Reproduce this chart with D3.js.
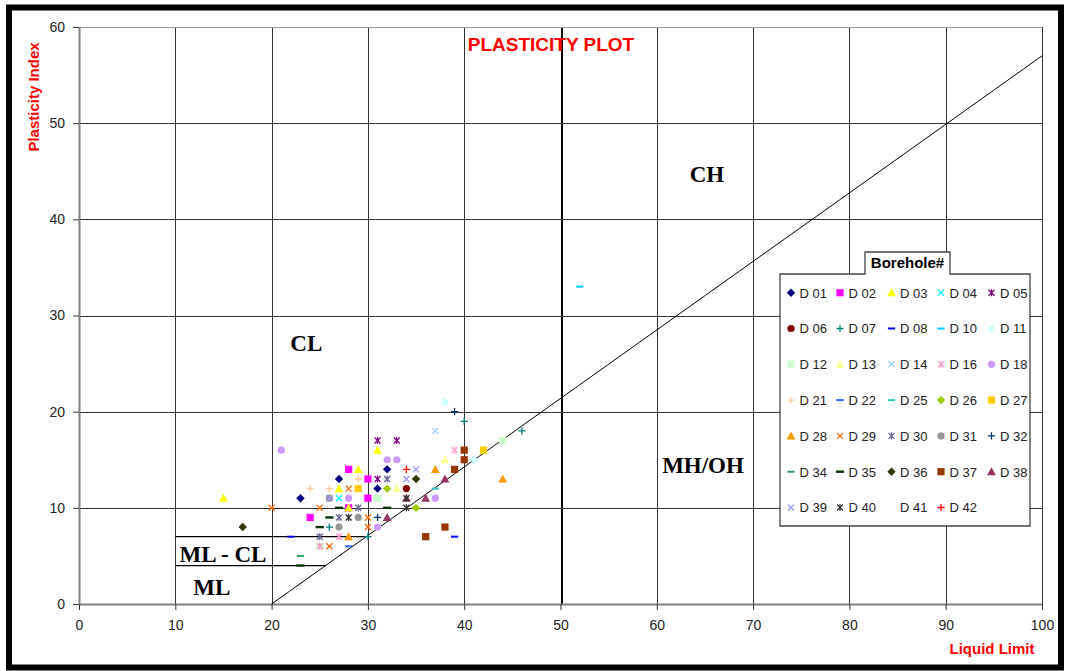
<!DOCTYPE html>
<html>
<head>
<meta charset="utf-8">
<script src="https://cdn.jsdelivr.net/npm/d3@7"></script>
<style>
	html, body { margin: 0; padding: 0; background: #fff; }
	svg { display: block; }
</style>
</head>
<body>
<div id="chart"></div>
<script>
// axis ticks
const xTicks = [0, 10, 20, 30, 40, 50, 60, 70, 80, 90, 100];
const yTicks = [0, 10, 20, 30, 40, 50, 60];

// borehole samples: [liquid limit, plasticity index]
const D01 = [[23, 11], [27, 13], [31, 12], [32, 14]];
const D02 = [[28, 14], [30, 13], [30, 11], [24, 9], [28, 10]];
const D03 = [[15, 11], [27, 12], [29, 14], [31, 16], [28, 10]];
const D04 = [[27, 11], [29, 12]];
const D05 = [[31, 17], [33, 17], [31, 13]];
const D06 = [[34, 12]];
const D07 = [[40, 19], [46, 18], [26, 8], [30, 7]];
const D08 = [[22, 7], [39, 7]];
const D10 = [[52, 33]];
const D11 = [[38, 21], [41, 15]];
const D12 = [[44, 17], [31, 11], [25, 6]];
const D13 = [[38, 15], [33, 12]];
const D14 = [[37, 18]];
const D16 = [[39, 16], [27, 7], [25, 6]];
const D18 = [[21, 16], [32, 15], [33, 15], [28, 11], [37, 11], [31, 8]];
const D21 = [[24, 12], [26, 12], [29, 13]];
const D22 = [[28, 6]];
const D25 = [[37, 12]];
const D26 = [[35, 10], [32, 12]];
const D27 = [[42, 16], [29, 12]];
const D28 = [[37, 14], [44, 13], [28, 7]];
const D29 = [[20, 10], [25, 10], [28, 12], [26, 6], [30, 8], [30, 9]];
const D30 = [[29, 10], [27, 9], [25, 7], [32, 13]];
const D31 = [[27, 8], [29, 9], [26, 11]];
const D32 = [[39, 20], [31, 9]];
const D34 = [[23, 5]];
const D35 = [[23, 4], [25, 8], [26, 9], [27, 10], [32, 10]];
const D36 = [[17, 8], [35, 13]];
const D37 = [[40, 16], [40, 15], [39, 14], [38, 8], [36, 7]];
const D38 = [[38, 13], [36, 11], [32, 9], [34, 11]];
const D39 = [[34, 13], [35, 14], [26, 11]];
const D40 = [[34, 10], [34, 11], [28, 9]];
const D41 = [];
const D42 = [[34, 14]];

const boreholes = ["D 01", "D 02", "D 03", "D 04", "D 05", "D 06", "D 07", "D 08", "D 10", "D 11",
	"D 12", "D 13", "D 14", "D 16", "D 18", "D 21", "D 22", "D 25", "D 26", "D 27",
	"D 28", "D 29", "D 30", "D 31", "D 32", "D 34", "D 35", "D 36", "D 37", "D 38",
	"D 39", "D 40", "D 41", "D 42"];
const boreholeData = [D01, D02, D03, D04, D05, D06, D07, D08, D10, D11,
	D12, D13, D14, D16, D18, D21, D22, D25, D26, D27,
	D28, D29, D30, D31, D32, D34, D35, D36, D37, D38,
	D39, D40, D41, D42];

// classification lines: A-line and the ML-CL band
const aLine = [[20, 0], [100, 57]];
const mlclLevels = [7, 4];
const mlclStart = 10;
const zones = [
	{name: "CH", ll: 65.2, pi: 44.7},
	{name: "CL", ll: 23.6, pi: 27.1},
	{name: "MH/OH", ll: 64.8, pi: 14.4},
	{name: "ML - CL", ll: 14.95, pi: 5.1},
	{name: "ML", ll: 13.8, pi: 1.7}
];

// marker styles, same order as boreholes
const markerStyle = [
	["diamond", "#000080"], ["square", "#ff00ff"], ["triangle", "#ffff00"], ["x", "#00ffff"], ["star", "#800080"],
	["circle", "#800000"], ["plus", "#008080"], ["dash", "#0000ff"], ["dash", "#00ccff"], ["diamond", "#ccffff"],
	["square", "#ccffcc"], ["triangle", "#ffff99"], ["x", "#99ccff"], ["star", "#ff99cc"], ["circle", "#cc99ff"],
	["plus", "#ffcc99"], ["dash", "#3366ff"], ["dash", "#33cccc"], ["diamond", "#99cc00"], ["square", "#ffcc00"],
	["triangle", "#ff9900"], ["x", "#ff6600"], ["star", "#666699"], ["circle", "#969696"], ["plus", "#003366"],
	["dash", "#339966"], ["longdash", "#003300"], ["diamond", "#333300"], ["square", "#993300"], ["triangle", "#993366"],
	["x", "#9999ff"], ["star", "#333333"], ["none", "#000"], ["plus", "#ff0000"]
];

const W = 1068, H = 671;
const svg = d3.select("#chart").append("svg").attr("width", W).attr("height", H);

const x = d3.scaleLinear().domain([0, 100]).range([79, 1042]);
const y = d3.scaleLinear().domain([0, 60]).range([604, 27]);

// frame
svg.append("rect").attr("x", 9).attr("y", 7.5).attr("width", 1052).attr("height", 660)
	.attr("fill", "#fff").attr("stroke", "#000").attr("stroke-width", 6);

// gridlines
const grid = svg.append("g").attr("shape-rendering", "crispEdges");
grid.selectAll("line.v").data(xTicks.filter(d => d > 0)).enter()
	.append("line")
	.attr("x1", d => Math.round(x(d)) + 0.5).attr("x2", d => Math.round(x(d)) + 0.5)
	.attr("y1", y(60)).attr("y2", y(0))
	.attr("stroke", d => d === 50 ? "#000" : "#333")
	.attr("stroke-width", d => d === 50 ? 2 : 1);
grid.selectAll("line.h").data(yTicks.filter(d => d > 0)).enter()
	.append("line")
	.attr("x1", x(0)).attr("x2", x(100))
	.attr("y1", d => Math.round(y(d)) + 0.5).attr("y2", d => Math.round(y(d)) + 0.5)
	.attr("stroke", d => d === 60 ? "#999" : "#333");

// axes
const xAxis = svg.append("g").attr("transform", `translate(0,${y(0)})`)
	.call(d3.axisBottom(x).tickValues(xTicks).tickSize(6).tickSizeOuter(0).tickPadding(10));
const yAxis = svg.append("g").attr("transform", `translate(${x(0)},0)`)
	.call(d3.axisLeft(y).tickValues(yTicks).tickSize(6).tickSizeOuter(0).tickPadding(8));
[xAxis, yAxis].forEach(a => {
	a.select(".domain").attr("stroke", "#808080").attr("stroke-width", 2);
	a.selectAll(".tick line").attr("stroke", "#333");
	a.selectAll("text").attr("font-family", "'Liberation Sans', Arial, sans-serif")
		.attr("font-size", 14).attr("fill", "#222");
});

// classification lines
const line = d3.line().x(d => x(d[0])).y(d => y(d[1]));
svg.append("path").attr("d", line(aLine)).attr("fill", "none").attr("stroke", "#000").attr("stroke-width", 1);
const slope = (aLine[1][1] - aLine[0][1]) / (aLine[1][0] - aLine[0][0]);
svg.selectAll("line.mlcl").data(mlclLevels).enter()
	.append("line")
	.attr("x1", x(mlclStart)).attr("x2", d => x(aLine[0][0] + d / slope))
	.attr("y1", d => y(d)).attr("y2", d => y(d))
	.attr("stroke", "#000").attr("stroke-width", 1.2);

// zone labels
svg.selectAll("text.zone").data(zones).enter()
	.append("text")
	.attr("x", d => x(d.ll)).attr("y", d => y(d.pi))
	.attr("text-anchor", "middle").attr("dominant-baseline", "central")
	.attr("font-family", "'Liberation Serif', 'Times New Roman', serif")
	.attr("font-weight", "bold").attr("font-size", 23).attr("fill", "#000")
	.text(d => d.name);

// titles
svg.append("text").attr("x", 551).attr("y", 51).attr("text-anchor", "middle")
	.attr("font-family", "'Liberation Sans', Arial, sans-serif").attr("font-weight", "bold")
	.attr("font-size", 19).attr("fill", "#ff0000").text("PLASTICITY PLOT");
svg.append("text").attr("x", 992).attr("y", 654).attr("text-anchor", "middle")
	.attr("font-family", "'Liberation Sans', Arial, sans-serif").attr("font-weight", "bold")
	.attr("font-size", 15).attr("fill", "#ff0000").text("Liquid Limit");
svg.append("text").attr("transform", "translate(39,97) rotate(-90)").attr("text-anchor", "middle")
	.attr("font-family", "'Liberation Sans', Arial, sans-serif").attr("font-weight", "bold")
	.attr("font-size", 15).attr("fill", "#ff0000").text("Plasticity Index");

// marker drawing
function drawMarker(g, type, color) {
	const s = 3.6;
	if (type === "diamond") {
		g.append("path").attr("d", `M0,${-s - 0.6}L${s + 0.6},0L0,${s + 0.6}L${-s - 0.6},0Z`).attr("fill", color);
	} else if (type === "square") {
		g.append("rect").attr("x", -s).attr("y", -s).attr("width", 2 * s).attr("height", 2 * s).attr("fill", color);
	} else if (type === "triangle") {
		g.append("path").attr("d", `M0,${-s - 0.8}L${s + 0.8},${s}L${-s - 0.8},${s}Z`).attr("fill", color);
	} else if (type === "circle") {
		g.append("circle").attr("r", s).attr("fill", color);
	} else if (type === "x" || type === "star") {
		g.append("path").attr("d", `M${-s + 0.6},${-s + 0.6}L${s - 0.6},${s - 0.6}M${-s + 0.6},${s - 0.6}L${s - 0.6},${-s + 0.6}`)
			.attr("stroke", color).attr("stroke-width", 1.3).attr("fill", "none");
		if (type === "star") {
			g.append("path").attr("d", `M0,${-s}L0,${s}`)
				.attr("stroke", color).attr("stroke-width", 1.3);
		}
	} else if (type === "plus") {
		g.append("path").attr("d", `M${-s},0L${s},0M0,${-s}L0,${s}`)
			.attr("stroke", color).attr("stroke-width", 1.3).attr("fill", "none");
	} else if (type === "dash") {
		g.append("rect").attr("x", -s).attr("y", -1).attr("width", 2 * s).attr("height", 2).attr("fill", color);
	} else if (type === "longdash") {
		g.append("rect").attr("x", -s - 0.5).attr("y", -1.2).attr("width", 2 * s + 1).attr("height", 2.4).attr("fill", color);
	}
}

// points
const pts = svg.append("g");
boreholeData.forEach((data, i) => {
	const [type, color] = markerStyle[i];
	data.forEach(d => {
		const g = pts.append("g").attr("transform", `translate(${x(d[0])},${y(d[1])})`);
		drawMarker(g, type, color);
	});
});

// legend
const lg = svg.append("g");
const L = {x0: 780, x1: 1030, y0: 274, y1: 526, tx0: 865, tx1: 950, ty: 252};
lg.append("path")
	.attr("d", `M${L.x0},${L.y0}H${L.tx0}V${L.ty}H${L.tx1}V${L.y0}H${L.x1}V${L.y1}H${L.x0}Z`)
	.attr("fill", "#fff").attr("stroke", "#444").attr("stroke-width", 1.3);
lg.append("text").attr("x", (L.tx0 + L.tx1) / 2).attr("y", 268).attr("text-anchor", "middle")
	.attr("font-family", "'Liberation Sans', Arial, sans-serif").attr("font-weight", "bold")
	.attr("font-size", 15).attr("fill", "#000").text("Borehole#");
const colX = [791, 840, 891.5, 941, 991.5];
const rowY0 = 292.7, rowStep = 35.8;
boreholes.forEach((name, i) => {
	const cx = colX[i % 5], cy = rowY0 + Math.floor(i / 5) * rowStep;
	const g = lg.append("g").attr("transform", `translate(${cx},${cy})`);
	drawMarker(g, markerStyle[i][0], markerStyle[i][1]);
	lg.append("text").attr("x", cx + 8.5).attr("y", cy + 4.8)
		.attr("font-family", "'Liberation Sans', Arial, sans-serif")
		.attr("font-size", 13).attr("fill", "#222").text(name);
});
</script>
</body>
</html>
